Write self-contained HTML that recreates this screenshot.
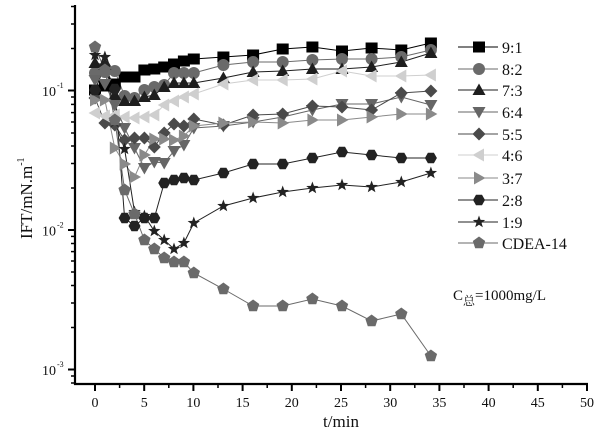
<!DOCTYPE html>
<html><head><meta charset="utf-8"><style>
html,body{margin:0;padding:0;background:#fff;}
svg{display:block;}
text{font-family:"Liberation Serif","Noto Serif CJK SC",serif;fill:#111;}
</style></head><body>
<svg width="613" height="435" viewBox="0 0 613 435" xmlns="http://www.w3.org/2000/svg">
<defs>
<rect id="sq" x="-6" y="-5.5" width="12" height="11" fill="#000"/>
<circle id="ci" r="6" fill="#6a6a6a"/>
<polygon id="tu" points="0,-6.5 6.5,5 -6.5,5" fill="#1e1e1e"/>
<polygon id="td" points="0,6.5 6.5,-5 -6.5,-5" fill="#666"/>
<polygon id="di" points="0,-6.5 6.5,0 0,6.5 -6.5,0" fill="#4a4a4a"/>
<polygon id="tl" points="-6.5,0 5,-6.5 5,6.5" fill="#cfcfcf"/>
<polygon id="tr" points="6.5,0 -5,-6.5 -5,6.5" fill="#8a8a8a"/>
<polygon id="hx" points="6,0 3,5.2 -3,5.2 -6,0 -3,-5.2 3,-5.2" fill="#222"/>
<polygon id="st" points="0,-6.5 1.59,-2.18 6.18,-2.01 2.57,0.83 3.82,5.26 0,2.7 -3.82,5.26 -2.57,0.83 -6.18,-2.01 -1.59,-2.18" fill="#222"/>
<polygon id="pe" points="0,-6.5 6.18,-2.01 3.82,5.26 -3.82,5.26 -6.18,-2.01" fill="#6a6a6a"/>
</defs>

<!-- axes -->
<g stroke="#000" fill="none">
<line x1="75" y1="5" x2="75" y2="385" stroke-width="2.2"/>
<line x1="74" y1="384" x2="588" y2="384" stroke-width="2.2"/>
<!-- y major -->
<line x1="68" y1="90.5" x2="75" y2="90.5" stroke-width="2"/>
<line x1="68" y1="230" x2="75" y2="230" stroke-width="2"/>
<line x1="68" y1="369.5" x2="75" y2="369.5" stroke-width="2"/>
<!-- y minor -->
<g stroke-width="1.5">
<line x1="71" y1="48.5" x2="75" y2="48.5"/><line x1="71" y1="24" x2="75" y2="24"/><line x1="71" y1="6.5" x2="75" y2="6.5"/>
<line x1="71" y1="188" x2="75" y2="188"/><line x1="71" y1="163.5" x2="75" y2="163.5"/><line x1="71" y1="146" x2="75" y2="146"/><line x1="71" y1="133" x2="75" y2="133"/><line x1="71" y1="122" x2="75" y2="122"/><line x1="71" y1="112.6" x2="75" y2="112.6"/><line x1="71" y1="104.4" x2="75" y2="104.4"/><line x1="71" y1="97" x2="75" y2="97"/>
<line x1="71" y1="327.5" x2="75" y2="327.5"/><line x1="71" y1="303" x2="75" y2="303"/><line x1="71" y1="285.5" x2="75" y2="285.5"/><line x1="71" y1="272" x2="75" y2="272"/><line x1="71" y1="261" x2="75" y2="261"/><line x1="71" y1="251.6" x2="75" y2="251.6"/><line x1="71" y1="243.5" x2="75" y2="243.5"/><line x1="71" y1="236.4" x2="75" y2="236.4"/>
<line x1="71" y1="376" x2="75" y2="376"/><line x1="71" y1="383" x2="75" y2="383"/>
</g>
<!-- x major -->
<g stroke-width="2">
<line x1="95" y1="384" x2="95" y2="391"/><line x1="144.2" y1="384" x2="144.2" y2="391"/><line x1="193.4" y1="384" x2="193.4" y2="391"/><line x1="242.6" y1="384" x2="242.6" y2="391"/><line x1="291.8" y1="384" x2="291.8" y2="391"/><line x1="341" y1="384" x2="341" y2="391"/><line x1="390.2" y1="384" x2="390.2" y2="391"/><line x1="439.4" y1="384" x2="439.4" y2="391"/><line x1="488.6" y1="384" x2="488.6" y2="391"/><line x1="537.8" y1="384" x2="537.8" y2="391"/><line x1="587" y1="384" x2="587" y2="391"/>
</g>
<g stroke-width="1.5">
<line x1="119.6" y1="384" x2="119.6" y2="388"/><line x1="168.8" y1="384" x2="168.8" y2="388"/><line x1="218" y1="384" x2="218" y2="388"/><line x1="267.2" y1="384" x2="267.2" y2="388"/><line x1="316.4" y1="384" x2="316.4" y2="388"/><line x1="365.6" y1="384" x2="365.6" y2="388"/><line x1="414.8" y1="384" x2="414.8" y2="388"/><line x1="464" y1="384" x2="464" y2="388"/><line x1="513.2" y1="384" x2="513.2" y2="388"/><line x1="562.4" y1="384" x2="562.4" y2="388"/>
</g>
</g>

<!-- tick labels -->
<g font-size="14" text-anchor="middle">
<text x="95" y="407">0</text><text x="144.2" y="407">5</text><text x="193.4" y="407">10</text><text x="242.6" y="407">15</text><text x="291.8" y="407">20</text><text x="341" y="407">25</text><text x="390.2" y="407">30</text><text x="439.4" y="407">35</text><text x="488.6" y="407">40</text><text x="537.8" y="407">45</text><text x="587" y="407">50</text>
</g>
<g font-size="14" text-anchor="end">
<text x="56" y="96">10</text><text x="56" y="235.5">10</text><text x="56" y="375">10</text>
</g>
<g font-size="8">
<text x="57" y="88">-1</text><text x="57" y="227.5">-2</text><text x="57" y="367">-3</text>
</g>
<text x="341" y="427" font-size="17" text-anchor="middle">t/min</text>
<text transform="translate(32,239) rotate(-90)" font-size="17">IFT/mN.m<tspan dy="-8" font-size="10">-1</tspan></text>

<!-- series lines -->
<g fill="none" stroke-width="1">
<polyline stroke="#000" points="95,90 104.9,86 114.8,84 124.6,77 134.5,77 144.4,70 154.3,69 164.2,67 174,64 183.9,61 193.8,59 223.4,57 253.1,55 282.7,49 312.4,47 342,51 371.6,48 401.3,50 430.9,43"/>
<polyline stroke="#6a6a6a" points="95,73 104.9,72 114.8,71 124.6,96 134.5,98 144.4,90 154.3,87 164.2,85 174,73 183.9,73 193.8,73 223.4,65 253.1,62 282.7,62 312.4,60 342,59 371.6,59 401.3,57 430.9,50"/>
<polyline stroke="#1e1e1e" points="95,63 104.9,65 114.8,95 124.6,101 134.5,101 144.4,97 154.3,95 164.2,87 174,83 183.9,83 193.8,83 223.4,78 253.1,72 282.7,71 312.4,69 342,69 371.6,67 401.3,62 430.9,53"/>
<polyline stroke="#666" points="95,80 104.9,84 114.8,105 124.6,128 134.5,148 144.4,168 154.3,162 164.2,163 174,151 183.9,145 193.8,128 223.4,126 253.1,122 282.7,117 312.4,110 342,104 371.6,104 401.3,97 430.9,105"/>
<polyline stroke="#4a4a4a" points="95,98 104.9,123 114.8,125 124.6,140 134.5,138 144.4,138 154.3,147 164.2,133 174,124 183.9,126 193.8,119 223.4,125 253.1,115 282.7,114 312.4,106 342,107 371.6,110 401.3,93 430.9,91"/>
<polyline stroke="#cfcfcf" points="95,113 104.9,116 114.8,115 124.6,117 134.5,118 144.4,117 154.3,115 164.2,105 174,101 183.9,97 193.8,94 223.4,84 253.1,80 282.7,80 312.4,79 342,71 371.6,76 401.3,76 430.9,75"/>
<polyline stroke="#8a8a8a" points="95,100 104.9,100 114.8,148 124.6,164 134.5,177 144.4,155 154.3,139 164.2,139 174,140 183.9,136 193.8,126 223.4,123 253.1,122 282.7,123 312.4,120 342,120 371.6,117 401.3,114 430.9,114"/>
<polyline stroke="#222" points="95,90 104.9,66 114.8,89 124.6,218 134.5,226 144.4,218 154.3,218 164.2,183 174,180 183.9,178 193.8,180 223.4,173 253.1,164 282.7,164 312.4,158 342,152 371.6,155 401.3,158 430.9,158"/>
<polyline stroke="#222" points="95,55 104.9,57 114.8,122 124.6,149 134.5,212 144.4,216 154.3,231 164.2,240 174,249 183.9,243 193.8,223 223.4,206 253.1,198 282.7,192 312.4,188 342,185 371.6,187 401.3,182 430.9,173"/>
<polyline stroke="#6a6a6a" points="95,47 104.9,70 114.8,120 124.6,190 134.5,214 144.4,240 154.3,249 164.2,258 174,262 183.9,262 193.8,273 223.4,289 253.1,306 282.7,306 312.4,299 342,306 371.6,321 401.3,314 430.9,356"/>
</g>

<!-- markers -->
<g>
<use href="#sq" x="95" y="90"/><use href="#sq" x="104.9" y="86"/><use href="#sq" x="114.8" y="84"/><use href="#sq" x="124.6" y="77"/><use href="#sq" x="134.5" y="77"/><use href="#sq" x="144.4" y="70"/><use href="#sq" x="154.3" y="69"/><use href="#sq" x="164.2" y="67"/><use href="#sq" x="174" y="64"/><use href="#sq" x="183.9" y="61"/><use href="#sq" x="193.8" y="59"/><use href="#sq" x="223.4" y="57"/><use href="#sq" x="253.1" y="55"/><use href="#sq" x="282.7" y="49"/><use href="#sq" x="312.4" y="47"/><use href="#sq" x="342" y="51"/><use href="#sq" x="371.6" y="48"/><use href="#sq" x="401.3" y="50"/><use href="#sq" x="430.9" y="43"/>
</g>
<g>
<use href="#ci" x="95" y="73"/><use href="#ci" x="104.9" y="72"/><use href="#ci" x="114.8" y="71"/><use href="#ci" x="124.6" y="96"/><use href="#ci" x="134.5" y="98"/><use href="#ci" x="144.4" y="90"/><use href="#ci" x="154.3" y="87"/><use href="#ci" x="164.2" y="85"/><use href="#ci" x="174" y="73"/><use href="#ci" x="183.9" y="73"/><use href="#ci" x="193.8" y="73"/><use href="#ci" x="223.4" y="65"/><use href="#ci" x="253.1" y="62"/><use href="#ci" x="282.7" y="62"/><use href="#ci" x="312.4" y="60"/><use href="#ci" x="342" y="59"/><use href="#ci" x="371.6" y="59"/><use href="#ci" x="401.3" y="57"/><use href="#ci" x="430.9" y="50"/>
</g>
<g>
<use href="#tu" x="95" y="63"/><use href="#tu" x="104.9" y="65"/><use href="#tu" x="114.8" y="95"/><use href="#tu" x="124.6" y="101"/><use href="#tu" x="134.5" y="101"/><use href="#tu" x="144.4" y="97"/><use href="#tu" x="154.3" y="95"/><use href="#tu" x="164.2" y="87"/><use href="#tu" x="174" y="83"/><use href="#tu" x="183.9" y="83"/><use href="#tu" x="193.8" y="83"/><use href="#tu" x="223.4" y="78"/><use href="#tu" x="253.1" y="72"/><use href="#tu" x="282.7" y="71"/><use href="#tu" x="312.4" y="69"/><use href="#tu" x="342" y="69"/><use href="#tu" x="371.6" y="67"/><use href="#tu" x="401.3" y="62"/><use href="#tu" x="430.9" y="53"/>
</g>
<g>
<use href="#td" x="95" y="80"/><use href="#td" x="104.9" y="84"/><use href="#td" x="114.8" y="105"/><use href="#td" x="124.6" y="128"/><use href="#td" x="134.5" y="148"/><use href="#td" x="144.4" y="168"/><use href="#td" x="154.3" y="162"/><use href="#td" x="164.2" y="163"/><use href="#td" x="174" y="151"/><use href="#td" x="183.9" y="145"/><use href="#td" x="193.8" y="128"/><use href="#td" x="223.4" y="126"/><use href="#td" x="253.1" y="122"/><use href="#td" x="282.7" y="117"/><use href="#td" x="312.4" y="110"/><use href="#td" x="342" y="104"/><use href="#td" x="371.6" y="104"/><use href="#td" x="401.3" y="97"/><use href="#td" x="430.9" y="105"/>
</g>
<g>
<use href="#di" x="95" y="98"/><use href="#di" x="104.9" y="123"/><use href="#di" x="114.8" y="125"/><use href="#di" x="124.6" y="140"/><use href="#di" x="134.5" y="138"/><use href="#di" x="144.4" y="138"/><use href="#di" x="154.3" y="147"/><use href="#di" x="164.2" y="133"/><use href="#di" x="174" y="124"/><use href="#di" x="183.9" y="126"/><use href="#di" x="193.8" y="119"/><use href="#di" x="223.4" y="125"/><use href="#di" x="253.1" y="115"/><use href="#di" x="282.7" y="114"/><use href="#di" x="312.4" y="106"/><use href="#di" x="342" y="107"/><use href="#di" x="371.6" y="110"/><use href="#di" x="401.3" y="93"/><use href="#di" x="430.9" y="91"/>
</g>
<g>
<use href="#tl" x="95" y="113"/><use href="#tl" x="104.9" y="116"/><use href="#tl" x="114.8" y="115"/><use href="#tl" x="124.6" y="117"/><use href="#tl" x="134.5" y="118"/><use href="#tl" x="144.4" y="117"/><use href="#tl" x="154.3" y="115"/><use href="#tl" x="164.2" y="105"/><use href="#tl" x="174" y="101"/><use href="#tl" x="183.9" y="97"/><use href="#tl" x="193.8" y="94"/><use href="#tl" x="223.4" y="84"/><use href="#tl" x="253.1" y="80"/><use href="#tl" x="282.7" y="80"/><use href="#tl" x="312.4" y="79"/><use href="#tl" x="342" y="71"/><use href="#tl" x="371.6" y="76"/><use href="#tl" x="401.3" y="76"/><use href="#tl" x="430.9" y="75"/>
</g>
<g>
<use href="#tr" x="95" y="100"/><use href="#tr" x="104.9" y="100"/><use href="#tr" x="114.8" y="148"/><use href="#tr" x="124.6" y="164"/><use href="#tr" x="134.5" y="177"/><use href="#tr" x="144.4" y="155"/><use href="#tr" x="154.3" y="139"/><use href="#tr" x="164.2" y="139"/><use href="#tr" x="174" y="140"/><use href="#tr" x="183.9" y="136"/><use href="#tr" x="193.8" y="126"/><use href="#tr" x="223.4" y="123"/><use href="#tr" x="253.1" y="122"/><use href="#tr" x="282.7" y="123"/><use href="#tr" x="312.4" y="120"/><use href="#tr" x="342" y="120"/><use href="#tr" x="371.6" y="117"/><use href="#tr" x="401.3" y="114"/><use href="#tr" x="430.9" y="114"/>
</g>
<g>
<use href="#hx" x="95" y="90"/><use href="#hx" x="104.9" y="66"/><use href="#hx" x="114.8" y="89"/><use href="#hx" x="124.6" y="218"/><use href="#hx" x="134.5" y="226"/><use href="#hx" x="144.4" y="218"/><use href="#hx" x="154.3" y="218"/><use href="#hx" x="164.2" y="183"/><use href="#hx" x="174" y="180"/><use href="#hx" x="183.9" y="178"/><use href="#hx" x="193.8" y="180"/><use href="#hx" x="223.4" y="173"/><use href="#hx" x="253.1" y="164"/><use href="#hx" x="282.7" y="164"/><use href="#hx" x="312.4" y="158"/><use href="#hx" x="342" y="152"/><use href="#hx" x="371.6" y="155"/><use href="#hx" x="401.3" y="158"/><use href="#hx" x="430.9" y="158"/>
</g>
<g>
<use href="#st" x="95" y="55"/><use href="#st" x="104.9" y="57"/><use href="#st" x="114.8" y="122"/><use href="#st" x="124.6" y="149"/><use href="#st" x="134.5" y="212"/><use href="#st" x="144.4" y="216"/><use href="#st" x="154.3" y="231"/><use href="#st" x="164.2" y="240"/><use href="#st" x="174" y="249"/><use href="#st" x="183.9" y="243"/><use href="#st" x="193.8" y="223"/><use href="#st" x="223.4" y="206"/><use href="#st" x="253.1" y="198"/><use href="#st" x="282.7" y="192"/><use href="#st" x="312.4" y="188"/><use href="#st" x="342" y="185"/><use href="#st" x="371.6" y="187"/><use href="#st" x="401.3" y="182"/><use href="#st" x="430.9" y="173"/>
</g>
<g>
<use href="#pe" x="95" y="47"/><use href="#pe" x="104.9" y="70"/><use href="#pe" x="114.8" y="120"/><use href="#pe" x="124.6" y="190"/><use href="#pe" x="134.5" y="214"/><use href="#pe" x="144.4" y="240"/><use href="#pe" x="154.3" y="249"/><use href="#pe" x="164.2" y="258"/><use href="#pe" x="174" y="262"/><use href="#pe" x="183.9" y="262"/><use href="#pe" x="193.8" y="273"/><use href="#pe" x="223.4" y="289"/><use href="#pe" x="253.1" y="306"/><use href="#pe" x="282.7" y="306"/><use href="#pe" x="312.4" y="299"/><use href="#pe" x="342" y="306"/><use href="#pe" x="371.6" y="321"/><use href="#pe" x="401.3" y="314"/><use href="#pe" x="430.9" y="356"/>
</g>

<!-- legend -->
<g stroke-width="1">
<line x1="458" y1="47" x2="498" y2="47" stroke="#000"/><use href="#sq" x="479" y="47"/>
<line x1="458" y1="69" x2="498" y2="69" stroke="#6a6a6a"/><use href="#ci" x="479" y="69"/>
<line x1="458" y1="90" x2="498" y2="90" stroke="#1e1e1e"/><use href="#tu" x="479" y="90"/>
<line x1="458" y1="112" x2="498" y2="112" stroke="#666"/><use href="#td" x="479" y="112"/>
<line x1="458" y1="134" x2="498" y2="134" stroke="#4a4a4a"/><use href="#di" x="479" y="134"/>
<line x1="458" y1="155" x2="498" y2="155" stroke="#cfcfcf"/><use href="#tl" x="479" y="155"/>
<line x1="458" y1="178" x2="498" y2="178" stroke="#8a8a8a"/><use href="#tr" x="479" y="178"/>
<line x1="458" y1="200" x2="498" y2="200" stroke="#222"/><use href="#hx" x="479" y="200"/>
<line x1="458" y1="222" x2="498" y2="222" stroke="#222"/><use href="#st" x="479" y="222"/>
<line x1="458" y1="243" x2="498" y2="243" stroke="#6a6a6a"/><use href="#pe" x="479" y="243"/>
</g>
<g font-size="16">
<text x="502" y="53">9:1</text>
<text x="502" y="75">8:2</text>
<text x="502" y="96">7:3</text>
<text x="502" y="118">6:4</text>
<text x="502" y="140">5:5</text>
<text x="502" y="161">4:6</text>
<text x="502" y="184">3:7</text>
<text x="502" y="206">2:8</text>
<text x="502" y="228">1:9</text>
<text x="502" y="249">CDEA-14</text>
</g>
<text x="453" y="300" font-size="15">C<tspan font-size="12" dy="5">总</tspan><tspan dy="-5">=1000mg/L</tspan></text>
</svg>
</body></html>
